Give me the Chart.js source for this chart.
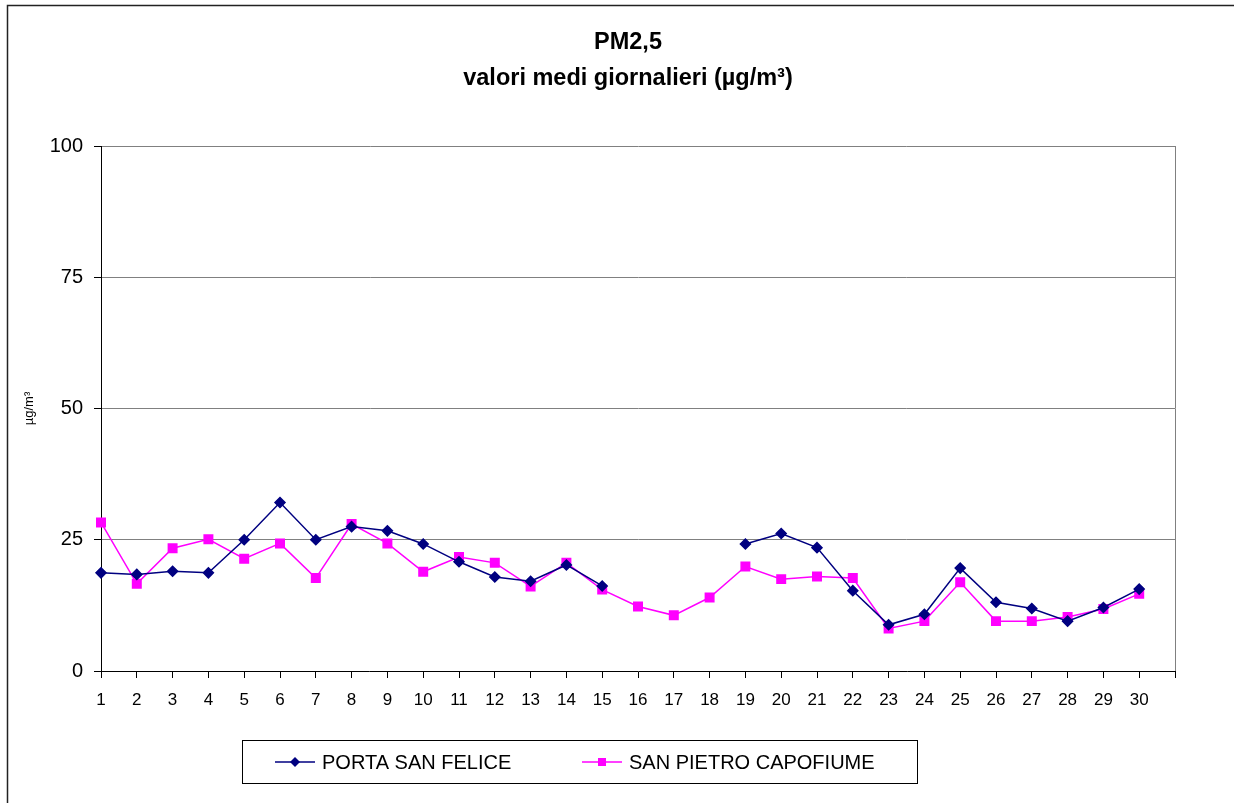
<!DOCTYPE html>
<html>
<head>
<meta charset="utf-8">
<script src="https://cdn.jsdelivr.net/npm/chart.js@4.4.1/dist/chart.umd.min.js"></script>
<style>
  html, body { margin: 0; padding: 0; background: #fff; }
  #wrap { width: 1234px; height: 803px; position: relative; }
</style>
</head>
<body>
<div id="wrap"><canvas id="pmChart"></canvas></div>
<script>
// giorni del mese (l'ultima posizione resta vuota, come nel grafico originale)
const days = ['1','2','3','4','5','6','7','8','9','10','11','12','13','14','15',
              '16','17','18','19','20','21','22','23','24','25','26','27','28','29','30',''];

const portaSanFelice = [18.7, 18.4, 19.0, 18.7, 25.0, 32.1, 25.0, 27.5, 26.7, 24.2,
                        20.8, 17.9, 17.1, 20.2, 16.2, null, null, null, 24.2, 26.2,
                        23.5, 15.3, 8.8, 10.8, 19.6, 13.1, 11.9, 9.5, 12.1, 15.6];

const sanPietroCapofiume = [28.3, 16.6, 23.4, 25.1, 21.4, 24.3, 17.7, 28.0, 24.3, 18.9,
                            21.7, 20.6, 16.1, 20.6, 15.5, 12.3, 10.6, 14.0, 19.9, 17.5,
                            18.0, 17.7, 8.1, 9.5, 16.9, 9.5, 9.5, 10.3, 11.8, 14.7];

const seriesNames = ['PORTA SAN FELICE', 'SAN PIETRO CAPOFIUME'];
const titleLines = ['PM2,5', 'valori medi giornalieri (µg/m³)'];
const yTicks = [0, 25, 50, 75, 100];

const FONT = 'Arial, "Liberation Sans", sans-serif';

// cornice esterna, titolo, bordo del plot e legenda in riquadro
const frameAndLegend = {
    id: 'frameAndLegend',
    beforeDraw(chart) {
        const c = chart.ctx;
        c.save();
        c.fillStyle = '#fff';
        c.fillRect(0, 0, chart.width, chart.height);
        c.strokeStyle = '#222';
        c.lineWidth = 1.5;
        c.strokeRect(7.5, 5.5, chart.width + 20, chart.height + 20);

        // titolo (centrato come nell'originale, non sul solo canvas)
        c.fillStyle = '#000';
        c.font = 'bold 23.5px ' + FONT;
        c.textAlign = 'center';
        c.textBaseline = 'middle';
        c.fillText(titleLines[0], 628, 43);
        c.fillText(titleLines[1], 628, 79);
        c.restore();
    },
    afterDraw(chart) {
        const c = chart.ctx;
        const a = chart.chartArea;
        c.save();
        // lato destro del plot
        c.strokeStyle = '#808080';
        c.lineWidth = 1;
        c.beginPath();
        c.moveTo(a.right + 0.5, a.top);
        c.lineTo(a.right + 0.5, a.bottom);
        c.stroke();

        // legenda
        c.strokeStyle = '#000';
        c.strokeRect(242.5, 740.5, 675, 43);
        const ly = 762;
        const starts = [275, 582];
        c.font = '20px ' + FONT;
        c.textBaseline = 'middle';
        chart.data.datasets.forEach((ds, i) => {
            const x0 = starts[i];
            c.strokeStyle = ds.borderColor;
            c.lineWidth = 1.5;
            c.beginPath();
            c.moveTo(x0, ly);
            c.lineTo(x0 + 40, ly);
            c.stroke();
            c.fillStyle = ds.pointBackgroundColor;
            const mx = x0 + 20;
            if (ds.pointStyle === 'rectRot') {
                c.beginPath();
                c.moveTo(mx, ly - 5);
                c.lineTo(mx + 5, ly);
                c.lineTo(mx, ly + 5);
                c.lineTo(mx - 5, ly);
                c.closePath();
                c.fill();
            } else {
                c.fillRect(mx - 4, ly - 4, 8, 8);
            }
            c.fillStyle = '#000';
            c.fillText(ds.label, x0 + 47, ly + 1);
        });
        c.restore();
    }
};

const ctx = document.getElementById('pmChart').getContext('2d');
new Chart(ctx, {
    type: 'line',
    data: {
        labels: days,
        datasets: [{
            label: seriesNames[0],
            data: portaSanFelice,
            borderColor: '#000080',
            backgroundColor: '#000080',
            pointBackgroundColor: '#000080',
            pointBorderColor: '#000080',
            pointStyle: 'rectRot',
            pointRadius: 5,
            borderWidth: 1.5,
            spanGaps: false,
            tension: 0
        }, {
            label: seriesNames[1],
            data: sanPietroCapofiume,
            borderColor: '#FF00FF',
            backgroundColor: '#FF00FF',
            pointBackgroundColor: '#FF00FF',
            pointBorderColor: '#FF00FF',
            pointStyle: 'rect',
            pointRadius: 6,
            borderWidth: 1.5,
            tension: 0
        }]
    },
    options: {
        responsive: true,
        maintainAspectRatio: false,
        animation: false,
        layout: { padding: { top: 146, left: 0, right: 59, bottom: 92 } },
        plugins: {
            legend: { display: false },
            tooltip: { enabled: false },
            title: { display: false }
        },
        scales: {
            x: {
                offset: false,
                afterFit(scale) { scale.height = 40; },
                grid: {
                    drawOnChartArea: false,
                    drawTicks: true,
                    tickLength: 7,
                    tickColor: '#000',
                    color: '#000'
                },
                border: { color: '#000', width: 1 },
                ticks: {
                    autoSkip: false,
                    maxRotation: 0,
                    color: '#000',
                    padding: 12,
                    font: { family: FONT, size: 17 }
                }
            },
            y: {
                min: 0,
                max: 100,
                afterFit(scale) { scale.width = 101; },
                afterBuildTicks(scale) { scale.ticks = yTicks.map(v => ({ value: v })); },
                grid: {
                    color: c => (c.tick && c.tick.value === 0) ? 'rgba(0,0,0,0)' : '#808080',
                    lineWidth: 1,
                    drawTicks: true,
                    tickLength: 7,
                    tickColor: '#000'
                },
                border: { color: '#000', width: 1 },
                ticks: {
                    color: '#000',
                    padding: 11,
                    font: { family: FONT, size: 20 }
                },
                title: {
                    display: true,
                    text: 'µg/m³',
                    color: '#000',
                    font: { family: FONT, size: 13 },
                    padding: { top: 22, bottom: 0 }
                }
            }
        }
    },
    plugins: [frameAndLegend]
});
</script>
</body>
</html>
